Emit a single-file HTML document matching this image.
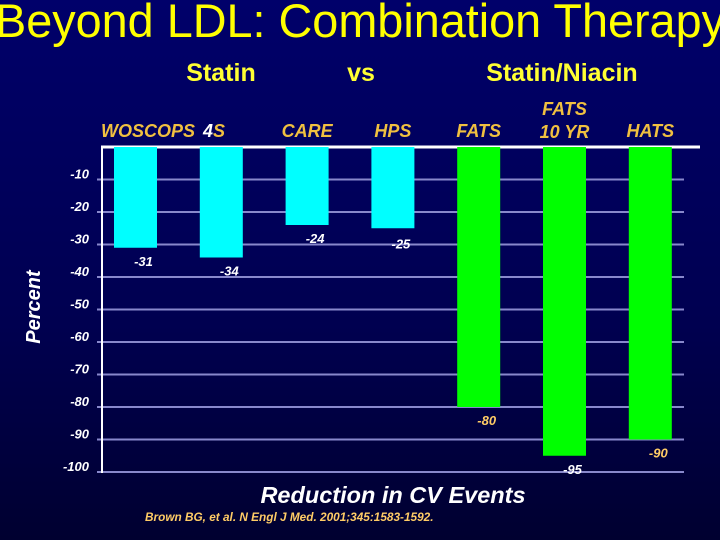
<!DOCTYPE html>
<html><head><meta charset="utf-8"><style>
body{margin:0;width:720px;height:540px;overflow:hidden;background:linear-gradient(#00006a,#000050 60%,#000030);font-family:"Liberation Sans",sans-serif;}
svg{display:block}
</style></head><body>
<svg width="720" height="540">
<text x="360" y="37" text-anchor="middle" fill="#ffff00" font-size="47" textLength="730" lengthAdjust="spacingAndGlyphs">Beyond LDL: Combination Therapy</text>
<text x="221" y="81" text-anchor="middle" fill="#ffff33" font-size="25" font-weight="bold">Statin</text>
<text x="361" y="81" text-anchor="middle" fill="#ffff33" font-size="25" font-weight="bold">vs</text>
<text x="562" y="81" text-anchor="middle" fill="#ffff33" font-size="25" font-weight="bold">Statin/Niacin</text>
<text x="40" y="307" text-anchor="middle" fill="#fff" font-size="20" font-weight="bold" font-style="italic" transform="rotate(-90 40 307)">Percent</text>
<text x="393" y="503" text-anchor="middle" fill="#fff" font-size="23.5" font-weight="bold" font-style="italic">Reduction in CV Events</text>
<text x="145" y="521" fill="#ffcc66" font-size="11.8" font-weight="bold" font-style="italic">Brown BG, et al. N Engl J Med. 2001;345:1583-1592.</text>
<text x="195" y="137" text-anchor="end" fill="#f0c040" font-size="18" font-weight="bold" font-style="italic">WOSCOPS</text>
<text x="203" y="137" fill="#f0c040" font-size="18" font-weight="bold" font-style="italic"><tspan fill="#fff">4</tspan>S</text>
<g id="g"></g>
</svg>
<script>
const categories=["WOSCOPS","4S","CARE","HPS","FATS","FATS|10 YR","HATS"];
const values=[-31,-34,-24,-25,-80,-95,-90];
const groups=["statin","statin","statin","statin","niacin","niacin","niacin"];
const labelColors=["#fff","#fff","#fff","#fff","#ffcc66","#fff","#ffcc66"];
const ticks=[-10,-20,-30,-40,-50,-60,-70,-80,-90,-100];
const NS="http://www.w3.org/2000/svg";
const g=document.getElementById('g');
function Y(v){return 147+(-v)*3.25;}
function X(i){return 135.5+i*85.8;}
function mk(t,a){const e=document.createElementNS(NS,t);for(const k in a)e.setAttribute(k,a[k]);g.appendChild(e);return e;}
ticks.forEach(t=>{
 const l=mk('line',{x1:97,x2:684,y1:Y(t),y2:Y(t),stroke:'#8888cc','stroke-width':2});
 
 
 const tx=mk('text',{x:89,y:Y(t)-1,'text-anchor':'end',fill:'#fff','font-size':13,'font-style':'italic','font-weight':'bold'});
 tx.textContent=t;
 
 
});
const ax=mk('line',{x1:102,x2:102,y1:146,y2:473,stroke:'#fff','stroke-width':2});


const tp=mk('line',{x1:101,x2:700,y1:147,y2:147,stroke:'#fff','stroke-width':3});


categories.forEach((c,i)=>{
 const cx=X(i);
 const r=mk('rect',{x:cx-21.5,y:Y(0),width:43,height:Y(values[i])-Y(0),fill:groups[i]=='statin'?'#00ffff':'#00ff00'});
 
 
 if(i>1){
  const parts=c.split('|');
  parts.forEach((p,k)=>{
   const t=mk('text',{x:cx,y:(parts.length>1?115:137)+k*23,'text-anchor':'middle',fill:'#f0c040','font-size':18,'font-style':'italic','font-weight':'bold'});
   t.textContent=p;
   
   
  });
 }
 const lb=mk('text',{x:cx+8,y:Y(values[i])+18,'text-anchor':'middle',fill:labelColors[i],'font-size':13,'font-style':'italic','font-weight':'bold'});
 if(i==2||i==3){lb.setAttribute('y',Y(values[i])+(i==2?18:20));}
 lb.textContent=values[i];
 
 
});
</script>
</body></html>
